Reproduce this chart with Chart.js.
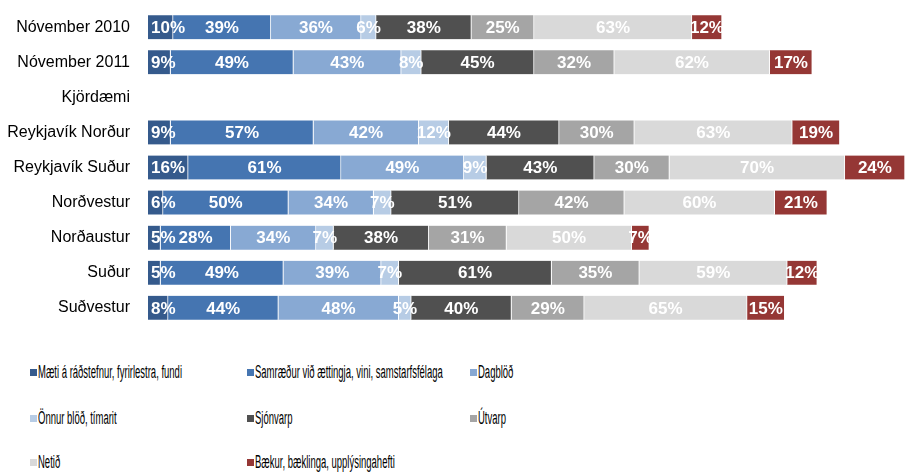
<!DOCTYPE html>
<html>
<head>
<meta charset="utf-8">
<script src="https://cdn.jsdelivr.net/npm/chart.js@4/dist/chart.umd.min.js"></script>
<style>
    html, body { margin: 0; padding: 0; background: #fff; }
    #wrap { position: relative; width: 905px; height: 475px; overflow: hidden; }
    #chartBox { position: absolute; left: 0; top: 0; width: 905px; height: 335px; }
    .lg { position: absolute; font-family: "Liberation Sans Narrow", "Liberation Sans", Arial, sans-serif;
          font-size: 18px; color: #000; white-space: nowrap; line-height: 18px; }
    .lg i { position: absolute; left: 0; top: 6px; width: 7px; height: 7px; }
    .lg span { position: absolute; left: 8px; top: 0; transform-origin: 0 50%; }
</style>
</head>
<body>
<div id="wrap">
    <div id="chartBox"><canvas id="chart"></canvas></div>
    <div id="legend"></div>
</div>
<script>
// categories (rows)
const categories = ['Nóvember 2010', 'Nóvember 2011', 'Kjördæmi', 'Reykjavík Norður', 'Reykjavík Suður',
    'Norðvestur', 'Norðaustur', 'Suður', 'Suðvestur'];

// series values (%)
const maeti     = [10,  9, null,  9, 16,  6,  5,  5,  8];
const samraedur = [39, 49, null, 57, 61, 50, 28, 49, 44];
const dagblod   = [36, 43, null, 42, 49, 34, 34, 39, 48];
const onnurBlod = [ 6,  8, null, 12,  9,  7,  7,  7,  5];
const sjonvarp  = [38, 45, null, 44, 43, 51, 38, 61, 40];
const utvarp    = [25, 32, null, 30, 30, 42, 31, 35, 29];
const netid     = [63, 62, null, 63, 70, 60, 50, 59, 65];
const baekur    = [12, 17, null, 19, 24, 21,  7, 12, 15];

const seriesNames = ['Mæti á ráðstefnur, fyrirlestra, fundi', 'Samræður við ættingja, vini, samstarfsfélaga',
    'Dagblöð', 'Önnur blöð, tímarit', 'Sjónvarp', 'Útvarp', 'Netið', 'Bækur, bæklinga, upplýsingahefti'];
const seriesData = [maeti, samraedur, dagblod, onnurBlod, sjonvarp, utvarp, netid, baekur];
const colors = ['#355a8c', '#4575b1', '#88a9d3', '#b7cce5', '#505050', '#a5a5a5', '#d9d9d9', '#953735'];

// white percentage labels centred in each segment (kept inside the left edge)
const segmentLabels = {
    id: 'segmentLabels',
    afterDatasetsDraw(chart) {
        const ctx = chart.ctx;
        const minLeft = chart.chartArea.left + 3;
        ctx.save();
        ctx.font = 'bold 17px "Liberation Sans", Arial, sans-serif';
        ctx.fillStyle = '#ffffff';
        ctx.textAlign = 'center';
        ctx.textBaseline = 'middle';
        chart.data.datasets.forEach((ds, i) => {
            chart.getDatasetMeta(i).data.forEach((bar, j) => {
                const v = ds.data[j];
                if (v === null || v === undefined) return;
                const p = bar.getProps(['x', 'y', 'base'], true);
                const txt = v + '%';
                const w = ctx.measureText(txt).width;
                let cx = (p.x + p.base) / 2;
                if (cx - w / 2 < minLeft) cx = minLeft + w / 2;
                ctx.fillText(txt, cx, p.y + 1);
            });
        });
        ctx.restore();
    }
};

new Chart(document.getElementById('chart'), {
    type: 'bar',
    data: {
        labels: categories,
        datasets: seriesData.map((d, i) => ({
            label: seriesNames[i],
            data: d,
            backgroundColor: colors[i],
            borderColor: '#ffffff',
            borderWidth: { top: 0, bottom: 0, left: 0, right: 1 },
            borderSkipped: false,
            barThickness: 24
        }))
    },
    options: {
        indexAxis: 'y',
        responsive: true,
        maintainAspectRatio: false,
        animation: false,
        layout: { padding: 0 },
        plugins: {
            legend: { display: false },
            tooltip: { enabled: false }
        },
        scales: {
            x: {
                stacked: true,
                display: false,
                min: 0,
                max: 302
            },
            y: {
                stacked: true,
                afterFit: (scale) => { scale.width = 148; },
                grid: {
                    display: true,
                    drawOnChartArea: false,
                    drawTicks: true,
                    tickLength: 18,
                    tickColor: 'rgba(0,0,0,0)'
                },
                border: { display: false },
                ticks: {
                    padding: 0,
                    color: '#000',
                    font: { family: '"Liberation Sans", Arial, sans-serif', size: 16 }
                }
            }
        }
    },
    plugins: [segmentLabels]
});

// legend in 3 columns below the chart
const legendPos = [[30, 363], [247, 363], [470, 363], [30, 409], [247, 409], [470, 409], [30, 453], [247, 453]];
const legendEl = document.getElementById('legend');
const spans = [];
seriesNames.forEach((name, i) => {
    const d = document.createElement('div');
    d.className = 'lg';
    d.style.left = legendPos[i][0] + 'px';
    d.style.top = legendPos[i][1] + 'px';
    d.innerHTML = '<i style="background:' + colors[i] + '"></i><span>' + name + '</span>';
    legendEl.appendChild(d);
    spans.push(d.querySelector('span'));
});
// squeeze legend text to the condensed look of the original
const k = 144 / spans[0].getBoundingClientRect().width;
spans.forEach(s => { s.style.transform = 'scaleX(' + k + ')'; });
</script>
</body>
</html>
